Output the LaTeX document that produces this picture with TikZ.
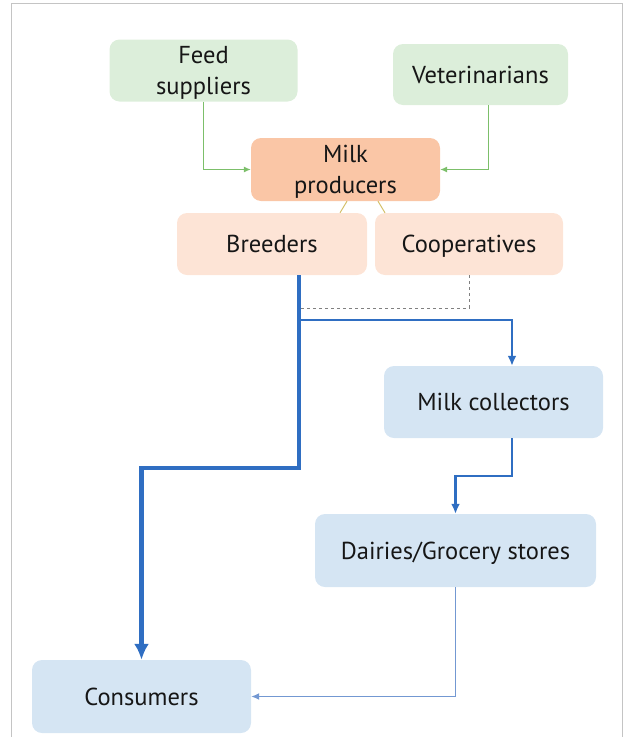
\documentclass[tikz,border=0pt]{standalone}
\usepackage{fontspec}
\setmainfont{PT Sans}
\usetikzlibrary{arrows.meta}
\definecolor{supplyfill}{HTML}{DCEEDA}
\definecolor{producerfill}{HTML}{FAC6A6}
\definecolor{typefill}{HTML}{FDE4D6}
\definecolor{chainfill}{HTML}{D5E5F3}
\definecolor{supplyline}{HTML}{7CBF6A}
\definecolor{flowline}{HTML}{2F6EC2}
\definecolor{weakline}{HTML}{7398D2}
\definecolor{linkline}{HTML}{D4C06A}
\definecolor{frameline}{HTML}{C4C4C4}
\definecolor{textcol}{HTML}{161616}
\begin{document}
\begin{tikzpicture}[x=1pt, y=-1pt,
	box/.style={shape=rectangle, rounded corners=10pt, align=center, text=textcol, inner sep=0pt,
		text depth=0pt, font=\fontsize{24.5}{31}\selectfont},
	supplybox/.style={box, fill=supplyfill},
	producerbox/.style={box, fill=producerfill},
	typebox/.style={box, fill=typefill},
	chainbox/.style={box, fill=chainfill},
	supplyarrow/.style={draw=supplyline, line width=1pt, -{Latex[length=7pt, width=6pt]}},
	heavyflow/.style={draw=flowline, line width=4.5pt, -{Latex[length=16pt, width=15pt]}},
	midflow/.style={draw=flowline, line width=2.5pt, -{Latex[length=10pt, width=9pt]}},
	weakflow/.style={draw=weakline, line width=1.3pt, -{Latex[length=8pt, width=7pt]}}]
	\useasboundingbox (0, 0) rectangle (624, 737);
	% Frame:
	\draw[frameline, line width=1.3pt] (11.5, 737) -- (11.5, 3.5) -- (622.5, 3.5) -- (622.5, 737);
	% Nodes:
	\node[supplybox, minimum width=188pt, minimum height=62pt](feed) at (203.5, 70.5){Feed\\suppliers};
	\node[supplybox, minimum width=175pt, minimum height=61pt](vet) at (480.5, 74.5){Veterinarians};
	\node[producerbox, minimum width=189pt, minimum height=63pt](prod) at (345.5, 169.5){Milk\\producers};
	\node[typebox, minimum width=190pt, minimum height=62pt](breed) at (272, 244){Breeders};
	\node[typebox, minimum width=188pt, minimum height=62pt](coop) at (469, 244){Cooperatives};
	\node[chainbox, minimum width=219pt, minimum height=72pt](coll) at (493.5, 402){Milk collectors};
	\node[chainbox, minimum width=281pt, minimum height=73pt](dairy) at (455.5, 550.5){Dairies/Grocery stores};
	\node[chainbox, minimum width=219pt, minimum height=73pt](cons) at (141.5, 696.5){Consumers};
	\coordinate (join) at (299, 308);
	\coordinate (split) at (299, 320);
	% Paths and wires:
	\draw[supplyarrow] (feed.south) |- (prod.west);
	\draw[supplyarrow] ([xshift=7.5pt]vet.south) |- (prod.east);
	\draw[linkline, line width=1pt] ([xshift=1.5pt]prod.south) -- ([xshift=68pt]breed.north);
	\draw[linkline, line width=1pt] ([xshift=32.5pt]prod.south) -- ([xshift=-84pt]coop.north);
	\draw[gray, line width=1pt, dashed] (coop.south) |- (join);
	\draw[midflow] (split) -| ([xshift=18.5pt]coll.north);
	\draw[heavyflow] ([xshift=27pt]breed.south) -- ++(0, 193) -| (cons.north);
	\draw[midflow] ([xshift=18.5pt]coll.south) -- ++(0, 38) -| (dairy.north);
	\draw[weakflow] (dairy.south) |- (cons.east);
\end{tikzpicture}
\end{document}
